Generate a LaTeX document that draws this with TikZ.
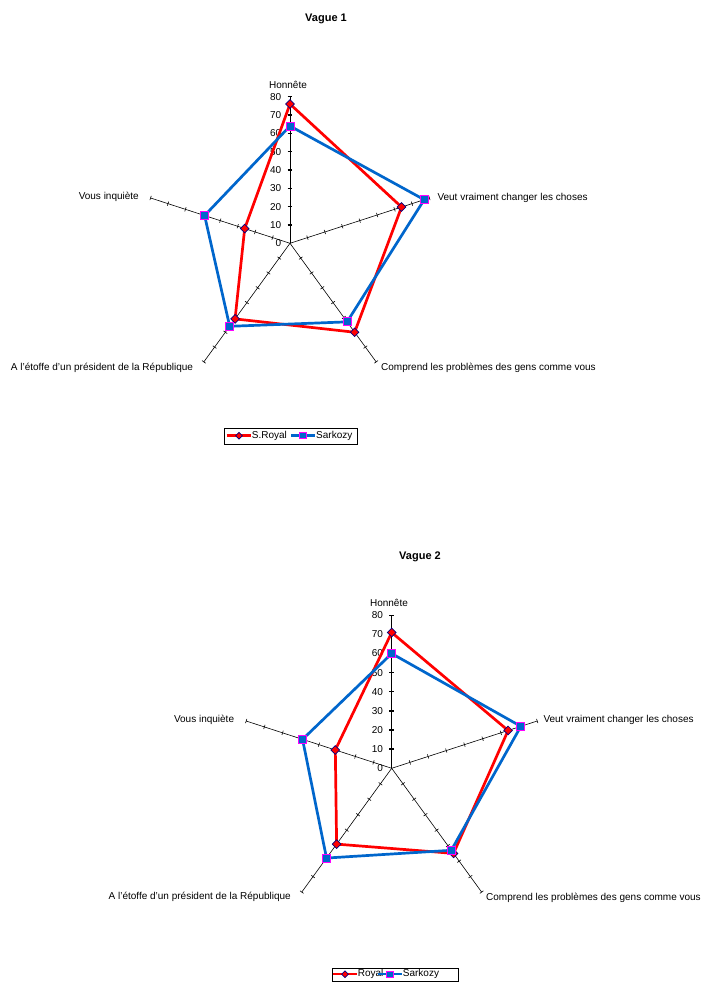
\documentclass[tikz,border=0pt]{standalone}
\usepackage{fontspec}
\setmainfont{Liberation Sans}
\usetikzlibrary{shapes.geometric}
\definecolor{sblue}{HTML}{0066CC}
\definecolor{navyb}{HTML}{000080}
\definecolor{magb}{HTML}{FF00FF}
\tikzset{
  axisline/.style={black, line width=0.6pt},
  tickmark/.style={black, line width=0.6pt},
  vtickmark/.style={black, line width=1.4pt},
  royalline/.style={red, line width=2.7pt, line join=round},
  sarkoline/.style={sblue, line width=2.7pt, line join=round},
  royalmark/.style={diamond, fill=red, draw=navyb, line width=0.7pt, inner sep=0pt, minimum size=9pt},
  sarkomark/.style={rectangle, fill=sblue, draw=magb, line width=1pt, inner sep=0pt, minimum size=8pt},
  lbl/.style={font=\fontsize{10}{12}\selectfont, inner sep=0pt},
  ttl/.style={font=\fontsize{11}{13}\selectfont\bfseries, inner sep=0pt},
  legbox/.style={draw=black, line width=0.6pt, inner sep=0pt},
  legline/.style={line width=2.4pt},
}
% #1 cx, #2 cy, #3 prefix, #4 scale (pt per unit), #5 Royal values, #6 Sarkozy values
\newcommand\radarplot[6]{%
\begin{scope}[shift={(#1,#2)}]
  \coordinate (#3o) at (0,0);
  \foreach \i in {1,...,5} {
    \pgfmathsetmacro\ang{90-72*(\i-1)}
    \pgfmathsetmacro\rend{80*#4}
    \coordinate (#3e\i) at (\ang:\rend);
    \draw[axisline] (#3o) -- (#3e\i);
    \ifnum\i>1
      \foreach \v in {1,...,8} {
        \pgfmathsetmacro\rr{\v*10*#4}
        \draw[tickmark] (\ang:\rr) ++({\ang+90}:2.2) -- ++({\ang-90}:4.4);
      }
    \fi
  }
  \foreach \v in {1,...,8} {
    \pgfmathsetmacro\rr{\v*10*#4}
    \draw[vtickmark] (-2.4,\rr) -- (2.4,\rr);
  }
  \foreach \v in {0,...,8} {
    \pgfmathsetmacro\rr{\v*10*#4}
    \pgfmathtruncatemacro\vv{\v*10}
    \node[lbl, anchor=east] (#3v\v) at (-8.5,\rr) {\vv};
  }
  \foreach \val [count=\i] in {#5} {
    \pgfmathsetmacro\ang{90-72*(\i-1)}
    \pgfmathsetmacro\rr{\val*#4}
    \coordinate (#3r\i) at (\ang:\rr);
  }
  \foreach \val [count=\i] in {#6} {
    \pgfmathsetmacro\ang{90-72*(\i-1)}
    \pgfmathsetmacro\rr{\val*#4}
    \coordinate (#3s\i) at (\ang:\rr);
  }
  \draw[royalline] (#3r1) -- (#3r2) -- (#3r3) -- (#3r4) -- (#3r5) -- cycle;
  \foreach \i in {1,...,5} { \node[royalmark] (#3rm\i) at (#3r\i) {}; }
  \draw[sarkoline] (#3s1) -- (#3s2) -- (#3s3) -- (#3s4) -- (#3s5) -- cycle;
  \foreach \i in {1,...,5} { \node[sarkomark] (#3sm\i) at (#3s\i) {}; }
\end{scope}}

\begin{document}
\begin{tikzpicture}[x=1pt,y=1pt]
\useasboundingbox[fill=white] (0,0) rectangle (701,983);

% ---------- Vague 1 ----------
\node[ttl] (t1) at (326,964) {Vague 1};
\radarplot{290}{739.7}{a}{1.8325}{76,64,60,51,26}{64,77,53,56,49}
\node[lbl] (a1l) at (288,898) {Honnête};
\node[lbl, anchor=west] (a2l) at (437.3,784.7) {Veut vraiment changer les choses};
\node[lbl, anchor=west] (a3l) at (381,615.3) {Comprend les problèmes des gens comme vous};
\node[lbl, anchor=east] (a4l) at (193.3,615.3) {A l'étoffe d'un président de la République};
\node[lbl, anchor=east] (a5l) at (139,785.7) {Vous inquiète};

% legend 1
\node[legbox, minimum width=133pt, minimum height=15.7pt] (leg1) at (290.5,546.9) {};
\coordinate (l1a) at (226.7,547.3);
\coordinate (l1b) at (250.7,547.3);
\draw[legline, red] (l1a) -- (l1b);
\node[royalmark, minimum size=7pt] (l1m) at (239,547.3) {};
\node[lbl, anchor=west] (l1t) at (251.7,547.3) {S.Royal};
\coordinate (l1c) at (291,547.3);
\coordinate (l1d) at (315,547.3);
\draw[legline, sblue] (l1c) -- (l1d);
\node[sarkomark, minimum size=6.5pt] (l1n) at (303,547.3) {};
\node[lbl, anchor=west] (l1u) at (316,547.3) {Sarkozy};

% ---------- Vague 2 ----------
\node[ttl] (t2) at (420,426) {Vague 2};
\radarplot{391.7}{214.7}{b}{1.9125}{71,64,55,49,31}{60,71,53,58,49}
\node[lbl] (b1l) at (389,380.3) {Honnête};
\node[lbl, anchor=west] (b2l) at (543.3,263) {Veut vraiment changer les choses};
\node[lbl, anchor=west] (b3l) at (486,85) {Comprend les problèmes des gens comme vous};
\node[lbl, anchor=east] (b4l) at (291,86.3) {A l'étoffe d'un président de la République};
\node[lbl, anchor=east] (b5l) at (234.3,263) {Vous inquiète};

% legend 2
\node[legbox, minimum width=126pt, minimum height=13pt] (leg2) at (395.7,8.5) {};
\coordinate (l2a) at (333.3,8.7);
\coordinate (l2b) at (356.7,8.7);
\draw[legline, red] (l2a) -- (l2b);
\node[royalmark, minimum size=7pt] (l2m) at (345,8.7) {};
\node[lbl, anchor=west] (l2t) at (357.7,8.7) {Royal};
\coordinate (l2c) at (378.3,8.7);
\coordinate (l2d) at (401.7,8.7);
\draw[legline, sblue] (l2c) -- (l2d);
\node[sarkomark, minimum size=6.5pt] (l2n) at (390,8.7) {};
\node[lbl, anchor=west] (l2u) at (402.7,8.7) {Sarkozy};
\end{tikzpicture}
\end{document}
